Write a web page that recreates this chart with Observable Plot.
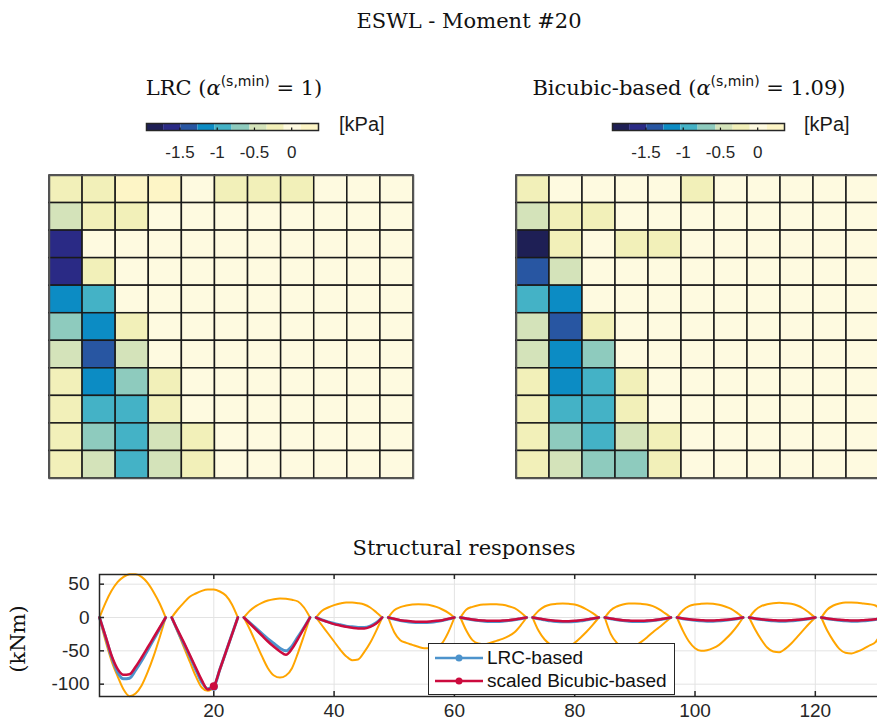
<!DOCTYPE html>
<html><head><meta charset="utf-8">
<script src="https://cdn.jsdelivr.net/npm/d3@7"></script>
<script src="https://cdn.jsdelivr.net/npm/@observablehq/plot@0.6"></script>
<style>
body{margin:0;background:#fff}
#fig{position:relative;width:877px;height:726px;overflow:hidden;background:#fff;color:#262626}
.serif{font-family:"DejaVu Serif","Liberation Serif",serif;color:#111;white-space:nowrap;text-align:center}
.sans{font-family:"Liberation Sans",Arial,sans-serif;white-space:nowrap}
.sup{font-family:"DejaVu Sans","Liberation Sans",sans-serif;font-size:14px;vertical-align:9px}
svg{max-width:none !important}
</style></head>
<body><div id="fig"></div>
<script>
// ---------------- data ----------------
const heatRows = [1,2,3,4,5,6,7,8,9,10,11];
const heatCols = [1,2,3,4,5,6,7,8,9,10,11];
// ESWL pressures (kPa), rows top->bottom, cols left->right
const lrcLoads = [
  [-0.2,-0.2,0.2,0.2,0,-0.2,-0.2,-0.22,0,0,0],
  [-0.45,-0.2,-0.18,0,0,0,0,0,0,0,0],
  [-1.6,0,0,0,0,0,0,0,0,0,0],
  [-1.6,-0.2,0,0,0,0,0,0,0,0,0],
  [-1.13,-0.9,0,0,0,0,0,0,0,0,0],
  [-0.68,-1.13,-0.2,0,0,0,0,0,0,0,0],
  [-0.45,-1.36,-0.45,0,0,0,0,0,0,0,0],
  [-0.2,-1.13,-0.68,-0.2,0,0,0,0,0,0,0],
  [-0.2,-0.9,-0.9,-0.2,0,0,0,0,0,0,0],
  [-0.2,-0.68,-0.9,-0.45,-0.2,0,0,0,0,0,0],
  [-0.2,-0.45,-0.9,-0.45,-0.2,0,0,0,0,0,0]
];
const bicubicLoads = [
  [-0.2,0,0,0,0,-0.2,0,0,0,0,0],
  [-0.45,-0.2,-0.2,0,0,0,0,0,0,0,0],
  [-1.85,-0.2,0,-0.2,-0.2,0,0,0,0,0,0],
  [-1.36,-0.45,0,0,0,0,0,0,0,0,0],
  [-0.9,-1.13,0,0,0,0,0,0,0,0,0],
  [-0.45,-1.36,-0.2,0,0,0,0,0,0,0,0],
  [-0.45,-1.13,-0.68,0,0,0,0,0,0,0,0],
  [-0.2,-1.13,-0.9,-0.2,0,0,0,0,0,0,0],
  [-0.2,-0.9,-0.9,-0.2,0,0,0,0,0,0,0],
  [-0.2,-0.68,-0.9,-0.45,-0.2,0,0,0,0,0,0],
  [-0.2,-0.45,-0.68,-0.68,-0.2,0,0,0,0,0,0]
];
const colorEdges = [-1.95,-1.72,-1.49,-1.26,-1.03,-0.80,-0.56,-0.33,-0.10,0.13,0.36];
const colorRange = ["#1e1f55","#2a2a85","#2856a2","#0c8cc4","#44b2c6","#8ecbbe","#d4e3ba","#f2f0b9","#fefae0","#fdf5c6"];
const colorTicks = [-1.5,-1,-0.5,0];

// structural responses (kNm), 11 spans x 12 nodes
const spans = [1,2,3,4,5,6,7,8,9,10,11];
const spanNodes = [1,2,3,4,5,6,7,8,9,10,11,12];
const envelopeMax = [
  [0,22,40,53,61,65,65,61,52,38,21,0],
  [0,12,22,31,36,40,42,42,39,33,20,0],
  [0,10,17,22,25.5,27.5,28.5,28,26.5,24,15,0],
  [0,10,15,18.5,21,22.5,22.5,21.5,19.5,15,8,0],
  [0,11,15.5,18,19.5,20,19.5,18.5,16,12,7,0],
  [0,12,16,18.5,19.5,20,20,19,17,14,8,0],
  [0,10,16.5,19.5,20.5,21,20.5,19.5,16.5,12,6.5,0],
  [0,11,16.5,19.5,21,21,20.5,19.5,17,12.5,6.5,0],
  [0,11,17,19.5,20.5,21,20.5,19,16.5,13,7,0],
  [0,11,17,20,21.5,22,21.5,20.5,18,13.5,7,0],
  [0,12,18,21,22.5,22.5,22,21,20,18,10,0]
];
const envelopeMin = [
  [0,-35,-65,-88,-108,-118,-114,-102,-82,-58,-30,0],
  [0,-22,-44,-66,-88,-105,-110,-104,-79,-53,-26,0],
  [0,-18,-38,-58,-76,-87,-90,-87,-76,-53,-27,0],
  [0,-12,-24,-36,-48,-58,-64,-63,-52,-38,-20,0],
  [0,-22,-34,-38,-41,-44,-46,-46,-44,-38,-22,0],
  [0,-20,-34,-39,-40,-38,-35,-32,-28,-22,-12,0],
  [0,-20,-33,-41,-46,-47,-44,-38,-30,-21,-11,0],
  [0,-25,-38,-44,-46,-43,-37,-30,-22,-15,-7.5,0],
  [0,-20,-36,-46,-50,-49,-46,-41,-33,-24,-13,0],
  [0,-18,-33,-45,-51,-52,-47,-39,-29,-19,-9,0],
  [0,-20,-35,-47,-53,-54,-51,-47,-42,-37,-22,0]
];
const lrcResponse = [
  [0,-29,-59,-82,-92,-91,-79,-65,-49,-33,-17,0],
  [0,-20,-39,-58,-78,-97,-107,-104,-78,-52,-26,0],
  [0,-8,-16,-24,-32,-39,-46,-50,-43,-29,-15,0],
  [0,-3.5,-6.5,-9,-11,-13,-14,-15,-15,-13,-8,0],
  [0,-2.5,-4.5,-6,-7,-7.5,-7.5,-7,-6,-4.5,-2.5,0],
  [0,-2,-3.5,-4.5,-5.5,-6,-6,-5.5,-4.5,-3.5,-2,0],
  [0,-2,-3.5,-5,-6,-6.5,-6.5,-6,-5,-3.5,-2,0],
  [0,-2,-3.5,-4.5,-5.5,-6,-6,-5.5,-4.5,-3.5,-2,0],
  [0,-2,-3,-4,-5,-5.5,-5.5,-5,-4,-3,-2,0],
  [0,-2,-3,-4,-5,-5.5,-5.5,-5,-4,-3,-2,0],
  [0,-2,-3,-4,-5,-5.5,-5.5,-5,-4,-3,-2,0]
];
const bicubicResponse = [
  [0,-28,-57,-77,-86,-85,-74,-60,-45,-30,-15,0],
  [0,-19,-37,-56,-75,-94,-108,-103,-78,-52,-26,0],
  [0,-9,-18,-27,-36,-44,-51,-56,-47,-32,-16,0],
  [0,-4,-7,-10,-12,-14,-15.5,-16.5,-16.5,-14,-9,0],
  [0,-2,-4,-5,-6,-6.5,-6.5,-6,-5,-4,-2,0],
  [0,-1.5,-3,-4,-4.5,-5,-5,-4.5,-4,-3,-1.5,0],
  [0,-1.5,-3,-4,-5,-5.5,-5.5,-5,-4,-3,-1.5,0],
  [0,-1.5,-3,-4,-4.5,-5,-5,-4.5,-4,-3,-1.5,0],
  [0,-1.5,-2.5,-3.5,-4,-4.5,-4.5,-4,-3.5,-2.5,-1.5,0],
  [0,-1.5,-2.5,-3.5,-4,-4.5,-4.5,-4,-3.5,-2.5,-1.5,0],
  [0,-1.5,-2.5,-3.5,-4,-4.5,-4.5,-4,-3.5,-2.5,-1.5,0]
];
const momentIndex = 20;
const xTicks = [20,40,60,80,100,120];
const yTicks = [-100,-50,0,50];
const xDomain = [1,132];
const yDomain = [-118.5,64.5];
const seriesNames = ["LRC-based","scaled Bicubic-based"];

// ---------------- helpers ----------------
const fig = document.getElementById("fig");
function place(el, left, top){ el.style.position="absolute"; el.style.left=left+"px"; el.style.top=top+"px"; el.style.maxWidth="none"; fig.appendChild(el); return el; }
function html(str, left, top, cls, extra){ const d=document.createElement("div"); d.className=cls||""; d.innerHTML=str; if(extra) Object.assign(d.style, extra); return place(d,left,top); }
function centered(str, cx, cy, size, cls){ return html(str, cx-400, cy-size*0.62, cls, {width:"800px", fontSize:size+"px", lineHeight:(size*1.24)+"px"}); }
const plain = d => String(d);

const colorScale = {type:"threshold", domain: colorEdges.slice(1,-1), range: colorRange};

function heatmap(values, w){
  const cells = values.flatMap((row,r)=>row.map((v,c)=>({row:heatRows[r], col:heatCols[c], v})));
  return Plot.plot({
    width:w, height:305, margin:1,
    x:{type:"band", domain:heatCols, padding:0, round:false, axis:null},
    y:{type:"band", domain:heatRows, padding:0, round:false, axis:null},
    color:colorScale,
    style:{overflow:"visible", maxWidth:"none"},
    marks:[
      Plot.cell(cells,{x:"col", y:"row", fill:"v", stroke:"#1a1a1a", strokeWidth:1.5}),
      Plot.frame({stroke:"#555", strokeWidth:1.5})
    ]
  });
}

function colorbar(){
  const bands = colorRange.map((c,i)=>({x1:colorEdges[i], x2:colorEdges[i+1], mid:(colorEdges[i]+colorEdges[i+1])/2}));
  return Plot.plot({
    width:174, height:40, marginLeft:1, marginRight:1, marginTop:1, marginBottom:32,
    x:{domain:[colorEdges[0], colorEdges[colorEdges.length-1]], ticks:colorTicks, tickSize:0, tickPadding:15, tickFormat:plain, label:null},
    y:{domain:[0,1], axis:null},
    color:colorScale,
    style:{fontSize:"17px", fontFamily:"Liberation Sans, Arial, sans-serif", color:"#262626", overflow:"visible", maxWidth:"none"},
    marks:[
      Plot.rect(bands,{x1:"x1", x2:"x2", y1:0, y2:1, fill:"mid"}),
      Plot.ruleX(colorTicks,{y1:0, y2:0.35, stroke:"#111", strokeWidth:1.2}),
      Plot.frame({stroke:"#262626", strokeWidth:1.5})
    ]
  });
}

function rows(arr){
  return arr.flatMap((vals,s)=>vals.map((v,i)=>({span:spans[s], x:(spans[s]-1)*spanNodes.length+spanNodes[i], y:v})));
}

// ---------------- titles ----------------
centered("ESWL - Moment #20", 469, 21, 21, "serif");
centered("LRC (<i>α</i><span class='sup'>(s,min)</span> = 1)", 234, 81, 21, "serif");
centered("Bicubic-based (<i>α</i><span class='sup'>(s,min)</span> = 1.09)", 689, 81, 21, "serif");
centered("Structural responses", 464, 548, 21, "serif");

// colorbars
place(colorbar(), 145, 122);
place(colorbar(), 611, 122);
html("[kPa]", 339, 113, "sans", {fontSize:"20px", color:"#1a1a1a"});
html("[kPa]", 804, 113, "sans", {fontSize:"20px", color:"#1a1a1a"});

// heatmaps
place(heatmap(lrcLoads, 366), 48, 174);
place(heatmap(bicubicLoads, 365), 515, 174);

// ---------------- line chart ----------------
const maxRows = rows(envelopeMax), minRows = rows(envelopeMin);
const lrcRows = rows(lrcResponse), bicRows = rows(bicubicResponse);
const orange = "#ffa500", blue = "#4d93cc", red = "#cc0b3e";
const chart = Plot.plot({
  width:900, height:166, marginLeft:99, marginRight:13, marginTop:14, marginBottom:30,
  x:{domain:xDomain, label:null},
  y:{domain:yDomain, label:null},
  style:{fontSize:"19px", fontFamily:"Liberation Sans, Arial, sans-serif", color:"#262626", overflow:"visible", maxWidth:"none"},
  marks:[
    Plot.gridX(xTicks,{stroke:"#e3e3e3", strokeOpacity:1}),
    Plot.gridY(yTicks,{stroke:"#e3e3e3", strokeOpacity:1}),
    Plot.line(maxRows,{x:"x", y:"y", z:"span", stroke:orange, strokeWidth:2, curve:"monotone-x"}),
    Plot.line(minRows,{x:"x", y:"y", z:"span", stroke:orange, strokeWidth:2, curve:"monotone-x"}),
    Plot.line(lrcRows,{x:"x", y:"y", z:"span", stroke:blue, strokeWidth:3, curve:"monotone-x"}),
    Plot.line(bicRows,{x:"x", y:"y", z:"span", stroke:red, strokeWidth:2.5, curve:"monotone-x"}),
    Plot.dot(lrcRows.filter(d=>d.x===momentIndex),{x:"x", y:"y", r:4, fill:blue}),
    Plot.dot(bicRows.filter(d=>d.x===momentIndex),{x:"x", y:"y", r:4, fill:red}),
    Plot.ruleX(xTicks,{y1:yDomain[0], y2:yDomain[0], insetTop:-5, stroke:"#262626", strokeWidth:1.5}),
    Plot.ruleX(xTicks,{y1:yDomain[1], y2:yDomain[1], insetBottom:-5, stroke:"#262626", strokeWidth:1.5}),
    Plot.ruleY(yTicks,{x1:xDomain[0], x2:xDomain[0], insetRight:-5, stroke:"#262626", strokeWidth:1.5}),
    Plot.frame({stroke:"#262626", strokeWidth:1.5}),
    Plot.axisX(xTicks,{tickSize:0, tickPadding:7, label:null, tickFormat:plain}),
    Plot.axisY(yTicks,{tickSize:0, tickPadding:10, label:null, tickFormat:plain})
  ]
});
place(chart, 0, 560);

// y label
html("(kNm)", -32, 626, "serif", {width:"100px", fontSize:"21px", lineHeight:"26px", transform:"rotate(-90deg)"});

// legend
const leg = html("", 428, 643, "sans", {width:"247px", height:"52px", background:"#fff", border:"1px solid #262626", boxSizing:"border-box"});
const legColors = [blue, red];
seriesNames.forEach((name,i)=>{
  const row = document.createElement("div");
  Object.assign(row.style,{position:"absolute", left:"5px", top:(3+i*22.5)+"px", height:"22px", display:"flex", alignItems:"center"});
  row.innerHTML = `<svg width="50" height="22"><line x1="1" x2="49" y1="11" y2="11" stroke="${legColors[i]}" stroke-width="2.5"/><circle cx="25" cy="11" r="3.5" fill="${legColors[i]}"/></svg><span style="font-size:19px;color:#111;margin-left:3px">${name}</span>`;
  leg.appendChild(row);
});
</script>
</body></html>
